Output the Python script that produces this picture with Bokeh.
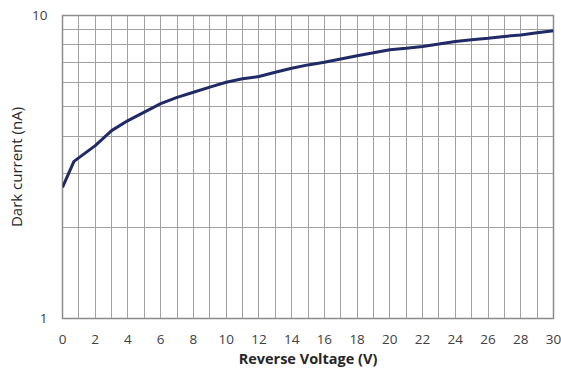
from bokeh.plotting import figure
from bokeh.models import FixedTicker, NumeralTickFormatter
from bokeh.embed import file_html
from bokeh.resources import INLINE

voltage = [0, 0.7, 2, 3, 4, 5, 6, 7, 8, 9, 10, 11, 12, 13, 14, 15, 16, 17, 18, 19,
           20, 21, 22, 23, 24, 25, 26, 27, 28, 29, 30]
dark_current = [2.71, 3.30, 3.72, 4.17, 4.50, 4.80, 5.12, 5.37, 5.58, 5.80, 6.02, 6.18,
                6.29, 6.50, 6.70, 6.87, 7.01, 7.19, 7.36, 7.53, 7.71, 7.80, 7.90, 8.05,
                8.21, 8.31, 8.41, 8.53, 8.63, 8.77, 8.90]
x_ticks = list(range(0, 31, 2))
x_grid = list(range(0, 31))
y_ticks = [1, 10]
y_grid = [1, 2, 3, 4, 5, 6, 7, 8, 9, 10]

p = figure(width=561, height=378, y_axis_type="log", x_range=(0, 30), y_range=(1, 10),
           output_backend="svg", toolbar_location=None,
           min_border_left=62, min_border_right=8, min_border_top=15, min_border_bottom=60)
p.background_fill_color = "white"
p.border_fill_color = "white"
p.outline_line_color = "#8c8c8c"
p.outline_line_width = 1.5

p.line(voltage, dark_current, line_color="#1f2a66", line_width=3)

font = "Open Sans"
for ax in (p.xaxis[0], p.yaxis[0]):
    ax.axis_line_color = None
    ax.major_tick_line_color = None
    ax.minor_tick_line_color = None
    ax.major_tick_out = 0
    ax.major_tick_in = 0
    ax.minor_tick_out = 0
    ax.minor_tick_in = 0
    ax.major_label_text_font = font
    ax.major_label_text_font_size = "13.5px"
    ax.major_label_text_color = "#404040"
    ax.axis_label_text_font = font
    ax.axis_label_text_color = "#262626"

p.xaxis.ticker = FixedTicker(ticks=x_ticks)
p.xaxis.major_label_standoff = 16
p.xaxis.axis_label = "Reverse Voltage (V)"
p.xaxis.axis_label_text_font_style = "bold"
p.xaxis.axis_label_text_font_size = "14.5px"
p.xaxis.axis_label_standoff = 2

p.yaxis.ticker = FixedTicker(ticks=y_ticks)
p.yaxis.formatter = NumeralTickFormatter(format="0")
p.yaxis.major_label_standoff = 15
p.yaxis.axis_label = "Dark current (nA)"
p.yaxis.axis_label_text_font_style = "normal"
p.yaxis.axis_label_text_font_size = "15px"
p.yaxis.axis_label_standoff = 3

p.xgrid.ticker = FixedTicker(ticks=x_grid)
p.ygrid.ticker = FixedTicker(ticks=y_grid)
for g in (p.xgrid[0], p.ygrid[0]):
    g.grid_line_color = "#a0a0a0"
    g.grid_line_width = 1
    g.grid_line_alpha = 1

open("out.html", "w").write(file_html(p, INLINE))
